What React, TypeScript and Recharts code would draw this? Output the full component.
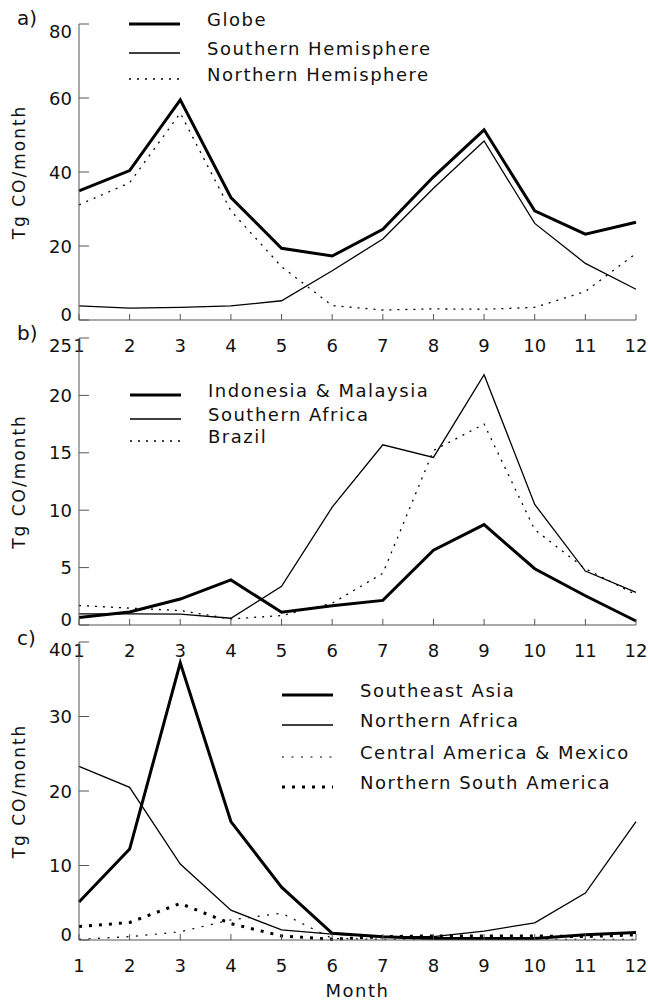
import React from "react";
import { LineChart, Line, XAxis, YAxis, Legend } from "recharts";

// month axis shared by all three panels
const months = [1, 2, 3, 4, 5, 6, 7, 8, 9, 10, 11, 12];

// a) hemispheres, Tg CO/month
const globe = [34.9, 40.4, 59.5, 33.1, 19.4, 17.3, 24.5, 38.7, 51.4, 29.5, 23.2, 26.4];
const southernHemisphere = [3.8, 3.2, 3.4, 3.8, 5.2, 13.3, 21.9, 35.6, 48.4, 26.1, 15.3, 8.3];
const northernHemisphere = [31.1, 37.1, 55.9, 29.5, 14.4, 3.9, 2.7, 3.0, 2.9, 3.4, 7.7, 18.0];

// b) southern regions
const indonesiaMalaysia = [0.65, 1.14, 2.26, 3.93, 1.11, 1.67, 2.14, 6.51, 8.74, 4.9, 2.55, 0.35];
const southernAfrica = [0.97, 0.97, 0.94, 0.59, 3.37, 10.26, 15.7, 14.6, 21.8, 10.5, 4.7, 2.84];
const brazil = [1.7, 1.47, 1.26, 0.53, 0.82, 1.9, 4.5, 15.2, 17.5, 8.3, 4.9, 2.64];

// c) northern regions
const southeastAsia = [5.1, 12.2, 37.2, 15.9, 7.1, 0.9, 0.45, 0.2, 0.2, 0.2, 0.7, 1.0];
const northernAfrica = [23.3, 20.5, 10.2, 4.0, 1.35, 0.8, 0.45, 0.45, 1.2, 2.3, 6.3, 15.9];
const centralAmerica = [0.1, 0.45, 1.1, 2.7, 3.6, 0.2, 0.1, 0.1, 0.1, 0.1, 0.1, 0.1];
const northernSouthAmerica = [1.8, 2.35, 4.9, 2.2, 0.55, 0.1, 0.45, 0.55, 0.55, 0.55, 0.45, 0.7];

const ticksA = [0, 20, 40, 60, 80];
const ticksB = [0, 5, 10, 15, 20, 25];
const ticksC = [0, 10, 20, 30, 40];

const W = 648;
const H = 1003;
const PLOT_LEFT = 79;
const PLOT_RIGHT = 636;
const AXIS = "#555";
const INK = "#111";
const FONT = "'DejaVu Sans', sans-serif";

const THICK = { width: 3, dash: undefined as string | undefined };
const THIN = { width: 1.3, dash: undefined as string | undefined };
const DOTS = { width: 1.3, dash: "2 6" };
const THIN_DOTS = { width: 1.2, dash: "2 7.5" };
const BIG_DOTS = { width: 3, dash: "3 7" };

interface Series {
  key: string;
  name: string;
  values: number[];
  style: { width: number; dash?: string };
}

interface PanelProps {
  tag: string;
  tagBaseline: number;
  top: number;
  bottom: number;
  max: number;
  ticks: number[];
  series: Series[];
  legend: { x: number; rows: number[] };
  showMonth?: boolean;
}

function buildRows(series: Series[]) {
  return months.map((m, i) => {
    const row: Record<string, number> = { month: m };
    series.forEach((s) => {
      row[s.key] = s.values[i];
    });
    return row;
  });
}

const XTick = ({ x, y, payload }: any) => (
  <g>
    <line x1={x} x2={x} y1={y} y2={y - 6} stroke={AXIS} />
    <text x={x} y={y + 32} textAnchor="middle" fontSize={18} fontFamily={FONT} fill={INK}>
      {payload.value}
    </text>
  </g>
);

const makeYTick = (max: number) => ({ x, y, payload }: any) => {
  let nudge = 0;
  if (payload.value === max) nudge = 7;
  if (payload.value === 0) nudge = -6;
  return (
    <g>
      <line x1={x} x2={x + 10} y1={y} y2={y} stroke={AXIS} />
      <text x={x - 7} y={y + nudge + 6.5} textAnchor="end" fontSize={18} fontFamily={FONT} fill={INK}>
        {payload.value}
      </text>
    </g>
  );
};

function Panel({ tag, tagBaseline, top, bottom, max, ticks, series, legend, showMonth }: PanelProps) {
  const data = buildRows(series);
  const legendH = legend.rows.length * 32;

  const legendContent = () => (
    <svg width={280} height={legendH} style={{ overflow: "visible", display: "block" }}>
      {series.map((s, i) => {
        const ly = legend.rows[i] - legend.rows[0] + 10;
        return (
          <g key={s.key}>
            <line
              x1={0}
              x2={51}
              y1={ly}
              y2={ly}
              stroke="#000"
              strokeWidth={s.style.width}
              strokeDasharray={s.style.dash}
            />
            <text
              x={78}
              y={ly + 2}
              fontSize={18}
              fontFamily={FONT}
              letterSpacing={1.5}
              fill={INK}
            >
              {s.name}
            </text>
          </g>
        );
      })}
    </svg>
  );

  return (
    <div style={{ position: "absolute", left: 0, top: 0, width: W, height: H, pointerEvents: "none" }}>
      <LineChart
        width={W}
        height={H}
        data={data}
        margin={{ top, right: W - PLOT_RIGHT, bottom: H - bottom - 30, left: PLOT_LEFT - 50 }}
      >
        <XAxis
          dataKey="month"
          type="number"
          domain={[1, 12]}
          ticks={months}
          height={30}
          tickSize={0}
          tickMargin={0}
          tickLine={false}
          axisLine={{ stroke: AXIS }}
          tick={<XTick />}
          interval={0}
          label={
            showMonth
              ? {
                  content: ({ viewBox }: any) => (
                    <text
                      x={viewBox.x + viewBox.width / 2}
                      y={viewBox.y + 57}
                      textAnchor="middle"
                      fontSize={18}
                      fontFamily={FONT}
                      letterSpacing={1.5}
                      fill={INK}
                    >
                      Month
                    </text>
                  ),
                }
              : undefined
          }
        />
        <YAxis
          type="number"
          domain={[0, max]}
          ticks={ticks}
          width={50}
          tickSize={0}
          tickMargin={0}
          tickLine={false}
          axisLine={{ stroke: AXIS }}
          tick={makeYTick(max)}
          interval={0}
          label={{
            content: ({ viewBox }: any) => {
              const cy = viewBox.y + viewBox.height / 2;
              return (
                <text
                  x={19}
                  y={cy}
                  transform={`rotate(-90, 19, ${cy})`}
                  textAnchor="middle"
                  dominantBaseline="central"
                  fontSize={17}
                  fontFamily={FONT}
                  letterSpacing={2}
                  fill={INK}
                >
                  Tg CO/month
                </text>
              );
            },
          }}
        />
        <Legend
          layout="horizontal"
          verticalAlign="middle"
          align="center"
          content={legendContent}
          wrapperStyle={{
            position: "absolute",
            left: legend.x,
            top: legend.rows[0] - 10,
            width: 280,
            height: legendH,
          }}
        />
        {series.map((s) => (
          <Line
            key={s.key}
            type="linear"
            dataKey={s.key}
            name={s.name}
            stroke="#000"
            strokeWidth={s.style.width}
            strokeDasharray={s.style.dash}
            dot={false}
            activeDot={false}
            isAnimationActive={false}
          />
        ))}
      </LineChart>
      <div
        style={{
          position: "absolute",
          left: 17,
          top: tagBaseline - 19,
          fontFamily: FONT,
          fontSize: 20,
          lineHeight: "24px",
          color: INK,
        }}
      >
        {tag}
      </div>
    </div>
  );
}

export default function App() {
  return (
    <div style={{ position: "absolute", left: 0, top: 0, width: W, height: H, background: "#fff" }}>
      <Panel
        tag="a)"
        tagBaseline={25}
        top={24}
        bottom={320}
        max={80}
        ticks={ticksA}
        legend={{ x: 129, rows: [24, 53, 79] }}
        series={[
          { key: "globe", name: "Globe", values: globe, style: THICK },
          { key: "sh", name: "Southern Hemisphere", values: southernHemisphere, style: THIN },
          { key: "nh", name: "Northern Hemisphere", values: northernHemisphere, style: DOTS },
        ]}
      />
      <Panel
        tag="b)"
        tagBaseline={340}
        top={338}
        bottom={625}
        max={25}
        ticks={ticksB}
        legend={{ x: 130, rows: [395, 419, 441] }}
        series={[
          { key: "indo", name: "Indonesia & Malaysia", values: indonesiaMalaysia, style: THICK },
          { key: "safr", name: "Southern Africa", values: southernAfrica, style: THIN },
          { key: "brazil", name: "Brazil", values: brazil, style: DOTS },
        ]}
      />
      <Panel
        tag="c)"
        tagBaseline={645}
        top={642}
        bottom={940}
        max={40}
        ticks={ticksC}
        showMonth
        legend={{ x: 282, rows: [695, 725, 757, 787] }}
        series={[
          { key: "sea", name: "Southeast Asia", values: southeastAsia, style: THICK },
          { key: "nafr", name: "Northern Africa", values: northernAfrica, style: THIN },
          { key: "cam", name: "Central America & Mexico", values: centralAmerica, style: THIN_DOTS },
          { key: "nsa", name: "Northern South America", values: northernSouthAmerica, style: BIG_DOTS },
        ]}
      />
    </div>
  );
}
